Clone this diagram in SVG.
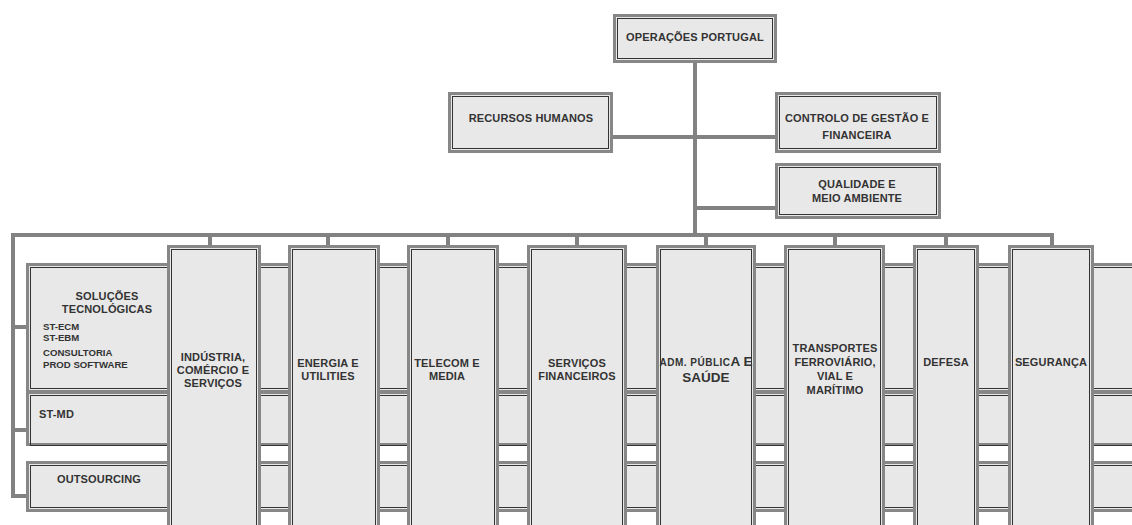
<svg xmlns="http://www.w3.org/2000/svg" width="1132" height="525" viewBox="0 0 1132 525">
  <style>
    .frame { fill: #e8e8e8; stroke: #878787; stroke-width: 3; }
    .inner { fill: none; stroke: #333333; stroke-width: 1; }
    .link { stroke: #828282; stroke-width: 4; fill: none; }
    text { font-family: "Liberation Sans", Arial, sans-serif; font-weight: bold; font-size: 11px; letter-spacing: 0.15px; fill: #333333; }
    .c { text-anchor: middle; }
    .sub { font-size: 9.6px; letter-spacing: 0; }
    .big { font-size: 13.5px; letter-spacing: 0; }
    .small { font-size: 10px; letter-spacing: 0.5px; }
  </style>
  <rect width="1132" height="525" fill="#ffffff"/>

  <!-- connector lines -->
  <g id="connectors">
    <line class="link" x1="695" y1="62" x2="695" y2="235"/>
    <line class="link" x1="612" y1="137" x2="776" y2="137"/>
    <line class="link" x1="695" y1="208" x2="776" y2="208"/>
    <line class="link" x1="11" y1="235" x2="1054" y2="235"/>
    <line class="link" x1="13" y1="233" x2="13" y2="498"/>
    <line class="link" x1="11" y1="327" x2="28" y2="327"/>
    <line class="link" x1="11" y1="430" x2="28" y2="430"/>
    <line class="link" x1="11" y1="496" x2="28" y2="496"/>
    <line class="link" x1="210" y1="233" x2="210" y2="247"/>
    <line class="link" x1="328" y1="233" x2="328" y2="247"/>
    <line class="link" x1="448" y1="233" x2="448" y2="247"/>
    <line class="link" x1="577" y1="233" x2="577" y2="247"/>
    <line class="link" x1="706" y1="233" x2="706" y2="247"/>
    <line class="link" x1="835" y1="233" x2="835" y2="247"/>
    <line class="link" x1="946" y1="233" x2="946" y2="247"/>
    <line class="link" x1="1052" y1="233" x2="1052" y2="247"/>
  </g>

  <!-- top level -->
  <g id="operacoes-portugal">
    <rect class="frame" x="614.5" y="15.5" width="161" height="46"/>
    <rect class="inner" x="617.5" y="18.5" width="155" height="40"/>
    <text class="c" x="695" y="41">OPERAÇÕES PORTUGAL</text>
  </g>

  <g id="recursos-humanos">
    <rect class="frame" x="449.5" y="93.5" width="162" height="58"/>
    <rect class="inner" x="452.5" y="96.5" width="156" height="52"/>
    <text class="c" x="531" y="122">RECURSOS HUMANOS</text>
  </g>

  <g id="controlo-gestao">
    <rect class="frame" x="776.5" y="93.5" width="163" height="58"/>
    <rect class="inner" x="779.5" y="96.5" width="157" height="52"/>
    <text class="c" x="857" y="122">CONTROLO DE GESTÃO E</text>
    <text class="c" x="857" y="139">FINANCEIRA</text>
  </g>

  <g id="qualidade">
    <rect class="frame" x="776.5" y="164.5" width="163" height="53"/>
    <rect class="inner" x="779.5" y="167.5" width="157" height="47"/>
    <text class="c" x="857" y="188">QUALIDADE E</text>
    <text class="c" x="857" y="202">MEIO AMBIENTE</text>
  </g>

  <!-- horizontal rows -->
  <g id="solucoes-tecnologicas">
    <rect class="frame" x="27.5" y="264.5" width="1120" height="127"/>
    <rect class="inner" x="30.5" y="267.5" width="1120" height="121"/>
    <text class="c" x="107" y="300">SOLUÇÕES</text>
    <text class="c" x="107" y="313">TECNOLÓGICAS</text>
    <text class="sub" x="43" y="330">ST-ECM</text>
    <text class="sub" x="43" y="341">ST-EBM</text>
    <text class="sub" x="43" y="356">CONSULTORIA</text>
    <text class="sub" x="43" y="368">PROD SOFTWARE</text>
  </g>

  <g id="st-md">
    <rect class="frame" x="27.5" y="392.5" width="1120" height="52"/>
    <rect class="inner" x="30.5" y="395.5" width="1120" height="50"/>
    <text x="39" y="418">ST-MD</text>
  </g>

  <g id="outsourcing">
    <rect class="frame" x="27.5" y="462.5" width="1120" height="48"/>
    <rect class="inner" x="30.5" y="465.5" width="1120" height="42"/>
    <text class="c" x="99" y="483">OUTSOURCING</text>
  </g>

  <!-- vertical columns -->
  <g id="industria">
    <rect class="frame" x="168.5" y="246.5" width="91" height="290"/>
    <rect class="inner" x="171.5" y="249.5" width="85" height="290"/>
    <text class="c" x="213" y="361">INDÚSTRIA,</text>
    <text class="c" x="213" y="374">COMÉRCIO E</text>
    <text class="c" x="213" y="387">SERVIÇOS</text>
  </g>

  <g id="energia">
    <rect class="frame" x="289.5" y="246.5" width="89" height="290"/>
    <rect class="inner" x="292.5" y="249.5" width="83" height="290"/>
    <text class="c" x="328" y="367">ENERGIA E</text>
    <text class="c" x="328" y="380">UTILITIES</text>
  </g>

  <g id="telecom">
    <rect class="frame" x="408.5" y="246.5" width="89" height="290"/>
    <rect class="inner" x="411.5" y="249.5" width="83" height="290"/>
    <text class="c" x="447" y="367">TELECOM E</text>
    <text class="c" x="447" y="380">MEDIA</text>
  </g>

  <g id="servicos-financeiros">
    <rect class="frame" x="528.5" y="246.5" width="97" height="290"/>
    <rect class="inner" x="531.5" y="249.5" width="91" height="290"/>
    <text class="c" x="577" y="367">SERVIÇOS</text>
    <text class="c" x="577" y="380">FINANCEIROS</text>
  </g>

  <g id="adm-publica">
    <rect class="frame" x="657.5" y="246.5" width="97" height="290"/>
    <rect class="inner" x="660.5" y="249.5" width="91" height="290"/>
    <text class="c" x="706" y="366"><tspan class="small">ADM. PÚBLIC</tspan><tspan class="big">A E</tspan></text>
    <text class="c big" x="706" y="382">SAÚDE</text>
  </g>

  <g id="transportes">
    <rect class="frame" x="785.5" y="246.5" width="98" height="290"/>
    <rect class="inner" x="788.5" y="249.5" width="92" height="290"/>
    <text class="c" x="835" y="352">TRANSPORTES</text>
    <text class="c" x="835" y="366">FERROVIÁRIO,</text>
    <text class="c" x="835" y="380">VIAL E</text>
    <text class="c" x="835" y="394">MARÍTIMO</text>
  </g>

  <g id="defesa">
    <rect class="frame" x="914.5" y="246.5" width="63" height="290"/>
    <rect class="inner" x="917.5" y="249.5" width="57" height="290"/>
    <text class="c" x="946" y="366">DEFESA</text>
  </g>

  <g id="seguranca">
    <rect class="frame" x="1009.5" y="246.5" width="83" height="290"/>
    <rect class="inner" x="1012.5" y="249.5" width="77" height="290"/>
    <text class="c" x="1051" y="366">SEGURANÇA</text>
  </g>
</svg>
